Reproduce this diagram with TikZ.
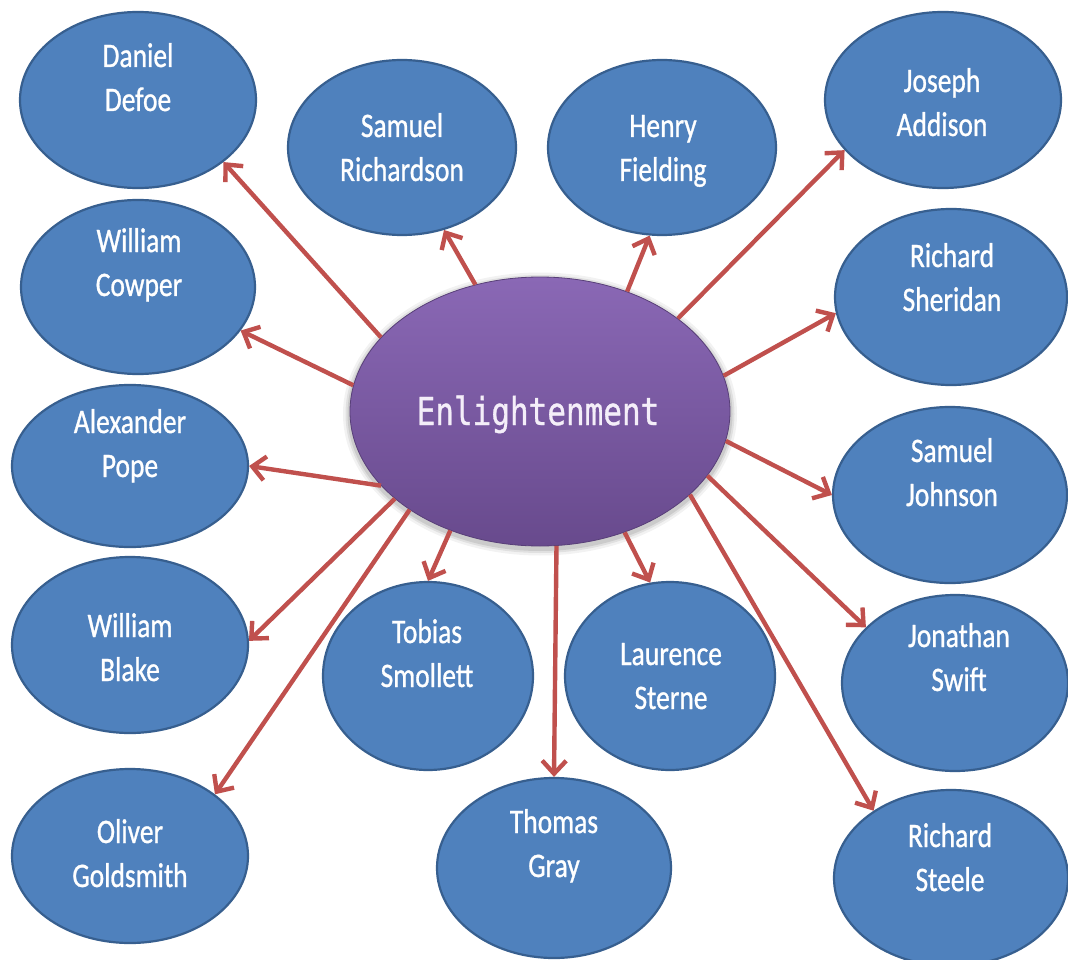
\documentclass[tikz,border=0pt]{standalone}
\usepackage{fontspec}
\setmainfont[RawFeature={embolden=1}]{Carlito}
\newfontfamily\monofam[RawFeature={embolden=1}]{DejaVu Sans Mono}
\usepackage{graphicx}
\usetikzlibrary{shapes.geometric,arrows.meta}
\definecolor{nodeblue}{HTML}{4F81BD}
\definecolor{nodeedge}{HTML}{375F8F}
\definecolor{arrowred}{HTML}{C0504D}
\definecolor{purtop}{HTML}{8A68B5}
\definecolor{purbot}{HTML}{684A8D}
\definecolor{enltext}{HTML}{F4EEF9}
\newcommand\twoline[2]{\scalebox{1}[1.25]{\begin{tabular}[t]{@{}c@{}}#1\\#2\end{tabular}}}
\begin{document}
\begin{tikzpicture}[x=1pt,y=-1pt,
  person/.style={ellipse, draw=nodeedge, line width=2.2pt, fill=nodeblue, inner sep=0pt},
  lbl/.style={anchor=base, text=white, font=\fontsize{27.5}{35.2}\selectfont, inner sep=0pt},
  arr/.style={draw=arrowred, line width=4.4pt, -{Straight Barb[length=13pt,width=24pt]}}]
\useasboundingbox (0,0) rectangle (1068,960);
\fill[white] (0,0) rectangle (1068,960);

% soft shadow of centre ellipse
\foreach \g/\o in {14/0.05,9/0.07,5/0.09}{
  \node[ellipse, fill=black, opacity=\o, inner sep=0pt, minimum width=380pt+\g pt, minimum height=269pt+\g pt] at (540,414) {};
}
\node[ellipse, minimum width=380pt, minimum height=269pt, inner sep=0pt,
      top color=purtop, bottom color=purbot, draw=purbot!85!black, line width=0.8pt] (en) at (540,411.5) {};
\node[anchor=base, text=enltext, font=\monofam\fontsize{31}{37}\selectfont, inner sep=0pt] (en-t) at (538,425) {\scalebox{1}[1.24]{Enlightenment}};

% outer nodes
\node[person, minimum width=236pt, minimum height=176pt] (defoe) at (138,100) {};
\node[lbl] (defoe-t) at (138,67) {\twoline{Daniel}{Defoe}};

\node[person, minimum width=228pt, minimum height=175pt] (richardson) at (402,147.5) {};
\node[lbl] (richardson-t) at (402,137) {\twoline{Samuel}{Richardson}};

\node[person, minimum width=228pt, minimum height=175pt] (fielding) at (662,147.5) {};
\node[lbl] (fielding-t) at (663,137) {\twoline{Henry}{Fielding}};

\node[person, minimum width=236pt, minimum height=176pt] (addison) at (943,100) {};
\node[lbl] (addison-t) at (942,92) {\twoline{Joseph}{Addison}};

\node[person, minimum width=232pt, minimum height=176pt] (sheridan) at (951,297) {};
\node[lbl] (sheridan-t) at (952,267) {\twoline{Richard}{Sheridan}};

\node[person, minimum width=234pt, minimum height=174pt] (cowper) at (138,287) {};
\node[lbl] (cowper-t) at (139,252) {\twoline{William}{Cowper}};

\node[person, minimum width=236pt, minimum height=162pt] (pope) at (130,466) {};
\node[lbl] (pope-t) at (130,433) {\twoline{Alexander}{Pope}};

\node[person, minimum width=236pt, minimum height=176pt] (blake) at (130,645) {};
\node[lbl] (blake-t) at (130,637) {\twoline{William}{Blake}};

\node[person, minimum width=236pt, minimum height=174pt] (goldsmith) at (130,856) {};
\node[lbl] (goldsmith-t) at (130,843) {\twoline{Oliver}{Goldsmith}};

\node[person, minimum width=210pt, minimum height=188pt] (smollett) at (428,676) {};
\node[lbl] (smollett-t) at (427,643) {\twoline{Tobias}{Smollett}};

\node[person, minimum width=210pt, minimum height=188pt] (sterne) at (670,676) {};
\node[lbl] (sterne-t) at (671,665) {\twoline{Laurence}{Sterne}};

\node[person, minimum width=234pt, minimum height=180pt] (gray) at (554,868) {};
\node[lbl] (gray-t) at (554,833) {\twoline{Thomas}{Gray}};

\node[person, minimum width=234pt, minimum height=176pt] (johnson) at (950,495) {};
\node[lbl] (johnson-t) at (952,462) {\twoline{Samuel}{Johnson}};

\node[person, minimum width=226pt, minimum height=176pt] (swift) at (955,683) {};
\node[lbl] (swift-t) at (959,647) {\twoline{Jonathan}{Swift}};

\node[person, minimum width=234pt, minimum height=176pt] (steele) at (951,878) {};
\node[lbl] (steele-t) at (950,847) {\twoline{Richard}{Steele}};

% connectors
\draw[arr] (en.155) -- (defoe.324);
\draw[arr] (en.117) -- (richardson.297);
\draw[arr] (en.54)  -- (fielding.262);
\draw[arr] (en.34)  -- (addison.207);
\draw[arr] (en.11)  -- (sheridan.188);
\draw[arr] (en.172) -- (cowper.337);
\draw[arr] (en.205) -- (pope.0);
\draw[arr] (en.211) -- (blake.2);
\draw[arr] (en.217) -- (goldsmith.36);
\draw[arr] (en.233) -- (smollett.90);
\draw[arr] (en.277) -- (gray.90);
\draw[arr] (en.305) -- (sterne.102);
\draw[arr] (en.331) -- (steele.139);
\draw[arr] (en.339) -- (swift.148);
\draw[arr] (en.351) -- (johnson.180);
\end{tikzpicture}
\end{document}
